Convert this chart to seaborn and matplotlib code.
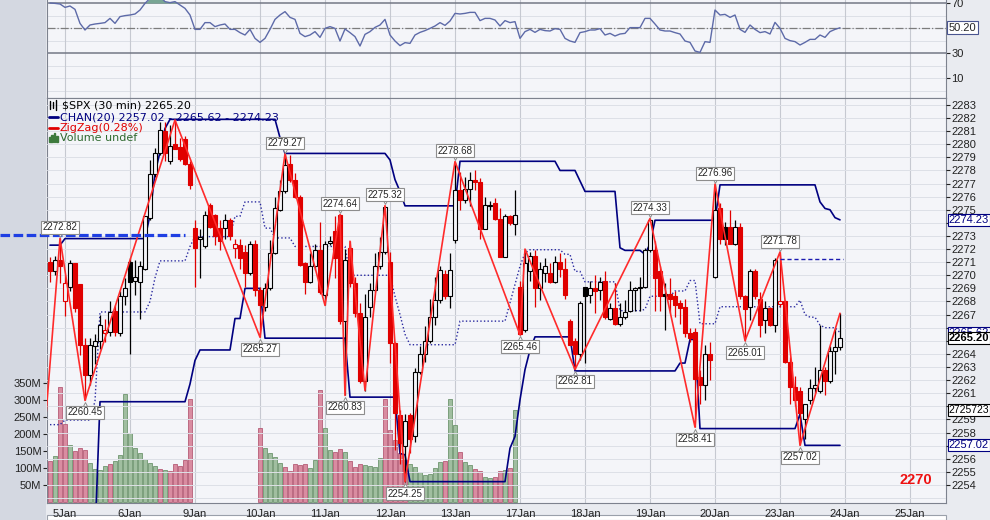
import numpy as np
import pandas as pd
import seaborn as sns
import matplotlib
matplotlib.use("Agg")
import matplotlib.pyplot as plt
from matplotlib.patches import Rectangle
from matplotlib.lines import Line2D
from matplotlib.transforms import ScaledTranslation, blended_transform_factory

# ---------------- data: $SPX 30 min bars ----------------
# bar 0..2 = last bars of 4Jan, then 13 bars per session up to 23Jan
day_labels = ["5Jan", "6Jan", "9Jan", "10Jan", "11Jan", "12Jan", "13Jan",
              "17Jan", "18Jan", "19Jan", "20Jan", "23Jan", "24Jan", "25Jan"]
day_first_bar = [3, 16, 29, 42, 55, 68, 81, 94, 107, 120, 133, 146, 159, 172]

opens = [2271.0, 2270.3, 2271.2, 2268.0, 2269.1, 2270.9, 2269.3, 2264.7, 2262.4, 2264.6,
         2265.0, 2265.6, 2265.7, 2267.3, 2265.6, 2268.4, 2271.0, 2269.6, 2269.5, 2270.5,
         2274.4, 2277.7, 2279.3, 2281.0, 2278.7, 2280.0, 2279.8, 2280.4, 2278.5, 2273.6,
         2272.8, 2272.2, 2275.4, 2274.6, 2273.6, 2273.6, 2274.2, 2272.1, 2272.3, 2271.8,
         2270.2, 2272.4, 2268.9, 2267.6, 2269.0, 2271.7, 2275.0, 2276.4, 2278.5, 2277.3,
         2276.0, 2270.9, 2269.5, 2270.7, 2271.9, 2268.5, 2272.5, 2273.4, 2274.6, 2266.5,
         2272.1, 2269.4, 2267.1, 2261.9, 2267.6, 2268.9, 2270.7, 2271.8, 2271.0, 2264.8,
         2259.3, 2257.0, 2259.3, 2257.7, 2262.6, 2264.0, 2265.0, 2266.8, 2268.1, 2270.1,
         2268.4, 2272.7, 2276.5, 2275.75, 2276.6, 2277.3, 2277.1, 2273.5, 2275.3, 2275.5,
         2274.3, 2271.4, 2274.5, 2273.9, 2269.1, 2265.8, 2270.3, 2271.5, 2269.0, 2270.2,
         2270.2, 2269.5, 2271.0, 2270.5, 2266.5, 2265.0, 2264.0, 2269.1, 2268.5, 2269.0,
         2268.9, 2269.6, 2266.7, 2267.5, 2266.3, 2266.8, 2267.3, 2268.9, 2269.0, 2269.1,
         2271.9, 2271.9, 2270.3, 2268.6, 2268.6, 2268.4, 2267.9, 2267.6, 2265.6, 2265.7,
         2262.2, 2261.6, 2264.0, 2269.9, 2275.1, 2273.7, 2273.7, 2272.4, 2273.7, 2268.4,
         2267.6, 2270.3, 2268.2, 2266.6, 2267.5, 2266.2, 2267.8, 2268.0, 2263.4, 2261.5,
         2261.2, 2259.0, 2260.5, 2261.4, 2261.2, 2262.8, 2261.9, 2264.2, 2264.5]
highs = [2271.4, 2271.5, 2272.82, 2270.0, 2271.2, 2270.9, 2269.3, 2265.2, 2265.2, 2265.5,
         2267.0, 2266.7, 2268.0, 2267.7, 2268.8, 2269.8, 2271.3, 2271.2, 2271.1, 2274.5,
         2278.8, 2279.7, 2281.7, 2281.7, 2281.5, 2281.85, 2280.5, 2280.6, 2278.7, 2274.2,
         2273.5, 2274.9, 2275.5, 2274.7, 2274.2, 2274.7, 2274.4, 2272.8, 2272.8, 2272.3,
         2272.6, 2272.7, 2269.1, 2269.4, 2272.7, 2276.0, 2277.3, 2279.27, 2279.2, 2277.8,
         2276.1, 2271.0, 2271.7, 2272.4, 2274.1, 2272.6, 2273.0, 2274.5, 2274.64, 2272.0,
         2272.6, 2269.9, 2267.9, 2268.6, 2269.4, 2271.7, 2272.9, 2275.32, 2271.8, 2264.9,
         2259.7, 2259.4, 2259.5, 2262.9, 2264.6, 2266.1, 2268.2, 2269.9, 2270.7, 2270.4,
         2271.7, 2278.68, 2277.9, 2277.5, 2277.9, 2278.0, 2277.4, 2276.0, 2275.7, 2275.9,
         2275.1, 2274.7, 2274.6, 2276.5, 2269.6, 2272.0, 2271.8, 2271.9, 2271.0, 2271.3,
         2270.9, 2271.5, 2271.7, 2271.3, 2266.7, 2265.2, 2268.0, 2269.1, 2269.6, 2270.0,
         2269.9, 2270.3, 2267.9, 2269.4, 2267.9, 2268.1, 2269.6, 2269.1, 2269.9, 2272.1,
         2274.33, 2272.6, 2270.7, 2269.4, 2269.8, 2268.8, 2268.1, 2268.2, 2266.0, 2266.0,
         2262.8, 2264.7, 2264.9, 2276.96, 2275.5, 2274.1, 2275.0, 2274.2, 2274.0, 2268.5,
         2270.5, 2270.5, 2268.7, 2268.0, 2267.6, 2271.3, 2271.78, 2268.1, 2263.8, 2262.3,
         2261.5, 2260.2, 2262.1, 2263.0, 2266.2, 2263.0, 2264.6, 2265.9, 2267.1]
lows = [2269.5, 2270.0, 2269.4, 2266.9, 2268.8, 2267.2, 2263.9, 2260.45, 2261.6, 2263.2,
        2264.4, 2264.9, 2265.4, 2265.4, 2265.4, 2267.7, 2264.0, 2268.5, 2266.7, 2270.4,
        2274.2, 2277.5, 2279.2, 2278.7, 2278.5, 2279.6, 2278.7, 2278.4, 2276.6, 2269.1,
        2269.8, 2272.1, 2273.6, 2272.3, 2271.9, 2272.8, 2272.7, 2271.3, 2270.5, 2269.1,
        2270.0, 2268.4, 2265.27, 2267.3, 2268.9, 2271.6, 2274.9, 2276.3, 2277.1, 2275.9,
        2270.7, 2268.6, 2269.4, 2270.4, 2268.6, 2267.7, 2272.3, 2269.8, 2266.3, 2260.83,
        2269.1, 2266.8, 2261.8, 2261.2, 2266.8, 2268.7, 2270.5, 2271.6, 2263.3, 2256.7,
        2255.6, 2254.25, 2256.4, 2257.3, 2262.5, 2263.4, 2264.8, 2266.2, 2267.9, 2268.2,
        2267.5, 2272.5, 2275.0, 2275.5, 2275.3, 2276.5, 2272.8, 2273.5, 2275.0, 2274.2,
        2271.4, 2271.4, 2273.8, 2273.1, 2265.46, 2265.7, 2269.6, 2267.6, 2268.1, 2269.5,
        2269.4, 2269.4, 2269.9, 2268.2, 2264.7, 2262.81, 2263.5, 2263.3, 2267.9, 2267.1,
        2268.1, 2266.7, 2266.6, 2266.2, 2266.1, 2266.7, 2267.2, 2267.3, 2267.3, 2269.0,
        2271.8, 2267.3, 2267.3, 2265.8, 2267.1, 2266.8, 2266.3, 2265.3, 2264.9, 2258.41,
        2260.2, 2260.5, 2262.0, 2269.8, 2272.4, 2272.3, 2272.4, 2272.3, 2268.2, 2265.01,
        2266.6, 2268.2, 2265.3, 2265.6, 2266.1, 2265.7, 2267.6, 2263.3, 2260.2, 2260.0,
        2257.02, 2257.5, 2260.2, 2261.0, 2261.0, 2260.9, 2261.8, 2262.5, 2264.3]
closes = [2270.3, 2271.2, 2270.7, 2269.4, 2270.9, 2267.5, 2264.7, 2262.4, 2264.7, 2265.0,
          2266.2, 2265.8, 2267.2, 2265.7, 2268.4, 2269.0, 2269.5, 2269.9, 2270.7, 2274.5,
          2277.7, 2279.3, 2281.1, 2279.3, 2279.9, 2279.6, 2278.9, 2278.5, 2276.9, 2272.1,
          2272.9, 2274.6, 2273.7, 2273.0, 2272.6, 2274.2, 2273.0, 2272.4, 2271.3, 2270.2,
          2272.4, 2268.9, 2267.7, 2269.0, 2271.7, 2275.1, 2276.4, 2278.4, 2277.3, 2276.0,
          2270.8, 2269.5, 2270.7, 2271.9, 2268.7, 2272.4, 2272.6, 2271.3, 2266.5, 2271.2,
          2269.4, 2267.1, 2261.9, 2266.8, 2268.9, 2270.7, 2271.8, 2275.2, 2264.8, 2259.5,
          2257.2, 2258.9, 2257.5, 2262.6, 2264.0, 2265.0, 2266.8, 2268.1, 2270.4, 2268.4,
          2270.4, 2276.5, 2275.75, 2276.6, 2277.3, 2277.1, 2273.5, 2275.4, 2275.4, 2274.3,
          2271.4, 2274.5, 2274.0, 2274.6, 2265.5, 2270.9, 2271.5, 2269.0, 2270.5, 2270.7,
          2269.5, 2271.0, 2270.5, 2268.5, 2264.7, 2264.0, 2267.9, 2268.4, 2269.0, 2268.8,
          2269.5, 2266.8, 2267.5, 2266.3, 2266.8, 2267.2, 2268.9, 2269.0, 2269.1, 2271.9,
          2274.2, 2269.8, 2268.4, 2268.4, 2268.2, 2267.7, 2267.5, 2265.6, 2265.2, 2262.1,
          2261.6, 2264.0, 2263.5, 2275.0, 2272.8, 2272.8, 2272.4, 2273.7, 2268.4, 2267.4,
          2270.3, 2268.4, 2266.2, 2267.5, 2266.2, 2271.2, 2268.0, 2263.4, 2261.5, 2260.5,
          2259.5, 2260.2, 2261.4, 2261.6, 2262.8, 2261.9, 2264.2, 2264.5, 2265.2]

# volume in millions; no volume after 13Jan and none on 9Jan ("Volume undef")
volume_m = [120, 135, 338, 229, 167, 150, 158, 153, 115, 97, 94, 106, 113, 120, 138, 317,
            202, 158, 143, 126, 114, 106, 97, 94, 91, 112, 106, 123, 304,
            None, None, None, None, None, None, None, None, None, None, None, None, None,
            219, 160, 143, 131, 116, 102, 91, 111, 109, 113, 100, 123, 328, 219, 153, 147,
            155, 147, 120, 104, 112, 108, 106, 103, 128, 302, 211, 182, 143, 125, 113, 102,
            88, 79, 82, 100, 117, 121, 302, 226, 147, 117, 109, 97, 91, 73, 70, 73, 91, 94,
            100, 270]
volume_side = ("rgrrgrrrggggrgggggggggrgrrrr" + "r" + "-------------" +
               "rggggrrrrrggrggrrgrrrggggrrrrrgggggggrggrggrrggrrgrg")

rsi = [70.0, 69.7, 69.2, 66.5, 67.6, 64.9, 53.7, 48.4, 52.4, 53.2, 53.7, 54.3, 57.7, 53.7,
       59.1, 59.9, 60.4, 61.2, 64.4, 69.7, 73.7, 75.1, 75.1, 71.1, 70.3, 71.1, 68.4, 65.7,
       60.4, 48.9, 48.9, 54.3, 54.3, 51.1, 52.4, 53.2, 48.9, 48.9, 46.3, 44.4, 48.9, 41.7,
       38.5, 41.7, 48.9, 56.9, 60.4, 63.1, 58.5, 56.9, 45.7, 43.1, 44.4, 47.1, 42.5, 49.7,
       51.1, 49.7, 39.6, 49.2, 46.3, 43.1, 35.6, 44.9, 47.1, 50.5, 52.4, 56.9, 44.4, 39.6,
       35.9, 38.3, 37.7, 44.4, 46.5, 47.9, 49.7, 51.6, 54.3, 52.1, 55.6, 61.7, 61.2, 61.7,
       62.5, 62.5, 55.9, 57.7, 57.7, 56.4, 51.6, 55.9, 54.3, 55.1, 41.7, 47.1, 48.9, 46.5,
       48.9, 47.9, 47.6, 49.5, 48.9, 41.7, 39.6, 38.5, 46.3, 47.1, 48.4, 48.4, 49.5, 44.4,
       45.7, 43.6, 45.2, 45.7, 50.3, 50.3, 50.3, 57.7, 57.7, 53.2, 48.4, 47.6, 47.6, 46.3,
       45.2, 39.6, 38.5, 31.6, 30.5, 39.1, 38.5, 64.4, 60.4, 60.9, 58.5, 60.4, 48.9, 46.5,
       52.4, 48.9, 46.3, 47.1, 45.2, 54.5, 49.7, 41.7, 39.9, 39.1, 36.4, 38.5, 40.9, 40.9,
       44.4, 42.5, 47.1, 48.9, 50.2]

# price channel CHAN(20), read as level / number of bars at that level
chan_upper_lvl = [2272.3, 2272.8, 2274.6, 2277.8, 2279.4, 2281.2, 2281.9, 2280.5, 2279.3,
                  2278.8, 2277.3, 2276.4, 2275.3, 2278.7, 2278.0, 2277.2, 2276.4, 2272.1,
                  2271.9, 2271.6, 2272.4, 2274.2, 2276.9, 2275.6, 2275.1, 2275.0, 2274.4,
                  2274.23]
chan_upper_run = [3, 17, 1, 1, 1, 1, 22, 1, 21, 1, 1, 1, 11, 20, 4, 1, 7, 1, 4, 1, 1, 13,
                  20, 1, 1, 1, 1, 1]
chan_lower_lvl = [2250.0, 2260.35, 2261.7, 2263.5, 2264.3, 2266.7, 2269.0, 2265.2, 2260.7,
                  2256.4, 2256.3, 2254.25, 2256.8, 2257.7, 2260.5, 2262.8, 2264.3, 2265.3,
                  2262.7, 2263.3, 2265.1, 2258.3, 2259.4, 2257.02]
chan_lower_run = [10, 18, 1, 1, 7, 2, 4, 17, 10, 1, 1, 20, 1, 1, 1, 1, 1, 8, 21, 2, 2, 20,
                  1, 8]
chan_mid_lvl = [2258.6, 2258.95, 2260.4, 2267.2, 2268.0, 2269.8, 2271.1, 2272.2, 2272.95,
                2274.5, 2275.6, 2273.6, 2272.85, 2272.2, 2270.0, 2268.4, 2267.0, 2265.5,
                2264.7, 2266.5, 2267.9, 2269.3, 2270.7, 2271.7, 2271.95, 2271.6, 2270.3,
                2269.5, 2267.3, 2267.4, 2268.4, 2268.8, 2269.6, 2266.3, 2267.6, 2268.1,
                2267.0, 2266.8, 2266.2, 2266.0, 2265.62]
chan_mid_run = [3, 6, 1, 10, 1, 1, 6, 1, 8, 2, 4, 2, 4, 11, 9, 1, 1, 1, 10, 10, 1, 1, 1, 1,
                7, 2, 2, 7, 5, 1, 5, 3, 2, 4, 16, 1, 1, 2, 1, 3, 1]

# ZigZag(0.28%) pivots (first one lies just left of the chart)
zz_bar = [-1, 2, 7, 25, 42, 47, 55, 58, 59, 60, 63, 67, 71, 81, 94, 95, 105, 120, 129,
          133, 139, 146, 150, 158]
zz_price = [2258.4, 2272.82, 2260.45, 2281.85, 2265.27, 2279.27, 2267.7, 2274.64, 2260.83,
            2272.6, 2261.2, 2275.32, 2254.25, 2278.68, 2265.46, 2272.0, 2262.81, 2274.33,
            2258.41, 2276.96, 2265.01, 2271.78, 2257.02, 2267.1]
zz_labeled = [0, 1, 1, 0, 1, 1, 0, 1, 1, 0, 0, 1, 1, 1, 1, 0, 1, 1, 1, 1, 1, 1, 1, 0]

marker_level = 2273.05      # thick blue dashed line drawn on the left
marker_from, marker_to = -10, 27
res_level = 2271.25         # thin dashed line after the 2271.78 top
res_from, res_to = 146, 158.6

# price ticks whose labels sit under the value flags on the right
hidden_ticks = [2257, 2260, 2265, 2266, 2274]

# ---------------- styling ----------------
sns.set_style("white")
plt.rcParams["font.family"] = ["Liberation Sans", "DejaVu Sans"]

BG = "#f4f5f9"
GRID = "#dde0e7"
VGRID = "#c6c9d1"
NAVY = "#000080"
RED = "#e00000"
ZZ = "#ff2b2b"

W, H = 990.0, 520.0


def frame(x0, y0, x1, y1):
    return [x0 / W, 1 - y1 / H, (x1 - x0) / W, (y1 - y0) / H]


fig = plt.figure(figsize=(9.9, 5.2), dpi=100)
fig.patch.set_facecolor("#e9ebf0")
fig.add_artist(Rectangle((0, 0), 46 / W, 1, transform=fig.transFigure,
                         facecolor="#d4d8e1", edgecolor="none", zorder=-2))
fig.add_artist(Rectangle((47 / W, 0), 899 / W, 5 / H, transform=fig.transFigure,
                         facecolor="white", edgecolor="#9aa0aa", lw=0.8, zorder=-1))

n = len(closes)
bars = np.arange(n)
o = np.array(opens)
hi = np.array(highs)
lo = np.array(lows)
c = np.array(closes)
xlim = (-0.6, 179.2)

# ---------------- RSI panel ----------------
ax_r = fig.add_axes(frame(47, -2, 946, 98))
ax_r.set_facecolor(BG)
ax_r.set_xlim(*xlim)
ax_r.set_ylim(-6, 74)
for lvl in [0, 10, 20, 40, 50, 60]:
    ax_r.axhline(lvl, color=GRID, lw=0.7, zorder=0)
for d in day_first_bar:
    ax_r.axvline(d, color=VGRID, lw=0.8, zorder=0)
ax_r.axhline(70, color="#737885", lw=1.1, zorder=1)
ax_r.axhline(30, color="#737885", lw=1.1, zorder=1)
ax_r.axhline(50.2, color="#7c7c7c", lw=0.9, ls="-.", zorder=1)
rsi_arr = np.array(rsi)
ax_r.fill_between(bars, 70, rsi_arr, where=rsi_arr > 70, interpolate=True,
                  color="#78a594", zorder=2, lw=0)
sns.lineplot(x=bars, y=rsi_arr, ax=ax_r, color="#5d6aa8", lw=1.0, zorder=3)
ax_r.yaxis.tick_right()
ax_r.set_yticks([10, 30, 70])
ax_r.tick_params(axis="y", labelsize=8, length=3, pad=1, colors="#222222")
ax_r.set_xticks([])
ax_r.set_xlabel("")
ax_r.set_ylabel("")
for s in ax_r.spines.values():
    s.set_color("#7d828e")
ax_r.text(1.003, 50.2, "50.20", transform=blended_transform_factory(ax_r.transAxes, ax_r.transData),
          ha="left", va="center", fontsize=8,
          bbox=dict(boxstyle="square,pad=0.12", fc="white", ec="#4a5590", lw=0.8))

# ---------------- main panel: volume underneath, price on top ----------------
ax_v = fig.add_axes(frame(47, 98, 946, 503))
ax_v.set_facecolor(BG)
ax = ax_v.twinx()
ax_v.set_xlim(*xlim)
ax_v.set_ylim(-3, 1188)
ax.set_ylim(2252.62, 2283.53)

for d in day_first_bar:
    ax_v.axvline(d, color=VGRID, lw=0.8, zorder=0)

vol_x = [i for i, v in enumerate(volume_m) if v is not None]
vol_h = [volume_m[i] for i in vol_x]
vol_fc = ["#d98ca1" if volume_side[i] == "r" else "#a0bea0" for i in vol_x]
vol_ec = ["#b65c77" if volume_side[i] == "r" else "#6f956f" for i in vol_x]
ax_v.bar(vol_x, vol_h, width=0.62, color=vol_fc, edgecolor=vol_ec, lw=0.6, zorder=2)
ax_v.set_yticks(list(range(50, 351, 50)))
ax_v.set_yticklabels([f"{v}M" for v in range(50, 351, 50)])
ax_v.tick_params(axis="y", labelsize=8, length=3, pad=1, colors="#222222")
ax_v.set_xticks(day_first_bar)
ax_v.set_xticklabels(day_labels)
ax_v.set_xticks(np.arange(0, 180), minor=True)
ax_v.tick_params(axis="x", which="major", labelsize=8, length=3, pad=1.5, colors="#222222")
ax_v.tick_params(axis="x", which="minor", length=2, direction="in", color="#777777")
for s in ax_v.spines.values():
    s.set_color("#7d828e")
for s in ax.spines.values():
    s.set_visible(False)

for lvl in range(2253, 2284):
    ax.axhline(lvl, color=GRID, lw=0.7, zorder=0.5)

# channel
upper = np.repeat(chan_upper_lvl, chan_upper_run)
lower = np.repeat(chan_lower_lvl, chan_lower_run)
middle = np.repeat(chan_mid_lvl, chan_mid_run)
sns.lineplot(x=bars, y=upper, ax=ax, color=NAVY, lw=1.2, zorder=2)
sns.lineplot(x=bars, y=lower, ax=ax, color=NAVY, lw=1.2, zorder=2)
sns.lineplot(x=bars, y=middle, ax=ax, color="#2a2aa0", lw=1.0, ls=(0, (1, 1.6)), zorder=2)

# candles: colour from close vs previous close, fill from close vs open
prev = np.concatenate([[o[0]], c[:-1]])
col = np.where(c >= prev, "#000000", RED)
filled = c < o
ax.vlines(bars, lo, hi, colors=col, lw=0.9, zorder=3)
body_lo = np.minimum(o, c)
body_h = np.maximum(np.abs(c - o), 0.08)
ax.bar(bars, body_h, bottom=body_lo, width=0.62,
       color=[cc if f else BG for cc, f in zip(col, filled)],
       edgecolor=col, lw=0.8, zorder=4)

# zigzag
sns.lineplot(x=zz_bar, y=zz_price, ax=ax, color=ZZ, lw=1.2, zorder=5, sort=False)
for k in range(1, len(zz_bar)):
    if not zz_labeled[k]:
        continue
    is_high = zz_price[k] > zz_price[k - 1]
    dy = 7.8 if is_high else -8.6
    ax.annotate(f"{zz_price[k]:.2f}", (zz_bar[k], zz_price[k]), xytext=(0, dy),
                textcoords="offset points", ha="center", va="center", fontsize=7,
                bbox=dict(boxstyle="square,pad=0.15", fc="white", ec="#8d8d8d", lw=0.8),
                zorder=8)
    off = ScaledTranslation(0, (3.0 if is_high else -3.4) / 72, fig.dpi_scale_trans)
    ax.plot(zz_bar[k], zz_price[k], marker="v" if is_high else "^", ms=4.5, mfc="white",
            mec="#8d8d8d", mew=0.7, transform=ax.transData + off, zorder=7)

ax.plot([marker_from, marker_to], [marker_level, marker_level], color="#1f3fe3", lw=2.3,
        ls=(0, (3, 1.1)), clip_on=False, zorder=6)
ax.plot([res_from, res_to], [res_level, res_level], color="#1a1ab0", lw=1.0,
        ls=(0, (3, 2)), zorder=6)

price_ticks = list(range(2254, 2284))
ax.set_yticks(price_ticks)
ax.set_yticklabels(["" if t in hidden_ticks else str(t) for t in price_ticks])
ax.tick_params(axis="y", labelsize=8, length=3, pad=1, colors="#222222")
ax.set_xlim(*xlim)
ax.set_xlabel("")
ax.set_ylabel("")
ax_v.set_ylabel("")

# right-hand value flags
flag = blended_transform_factory(ax.transAxes, ax.transData)
for val, txt, fcol, bold, fs in [(2274.23, "2274.23", NAVY, False, 8),
                                 (2265.62, "2265.62", NAVY, False, 8),
                                 (2265.20, "2265.20", "#000000", True, 8),
                                 (2259.72, "2725723", "#000000", False, 7.5),
                                 (2257.02, "2257.02", NAVY, False, 8)]:
    ax.text(1.003, val, txt, transform=flag, ha="left", va="center", fontsize=fs,
            color=fcol, fontweight="bold" if bold else "normal", zorder=9,
            bbox=dict(boxstyle="square,pad=0.1", fc="white", ec=fcol, lw=0.8))

# legend block
fig.text(62 / W, 1 - 105 / H, "$SPX (30 min) 2265.20", fontsize=8, family="DejaVu Sans",
         va="center", ha="left", color="#000000")
fig.text(60 / W, 1 - 117 / H, "CHAN(20) 2257.02 - 2265.62 - 2274.23", fontsize=8,
         family="DejaVu Sans", va="center", ha="left", color=NAVY)
fig.text(60 / W, 1 - 128 / H, "ZigZag(0.28%)", fontsize=8, family="DejaVu Sans",
         va="center", ha="left", color=RED)
fig.text(60 / W, 1 - 138 / H, "Volume undef", fontsize=8, family="DejaVu Sans",
         va="center", ha="left", color="#2f6a2f")
fig.add_artist(Line2D([49 / W, 58 / W], [1 - 117 / H] * 2, color=NAVY, lw=2))
fig.add_artist(Line2D([49 / W, 58 / W], [1 - 128 / H] * 2, color=RED, lw=2))
for j, hgt in enumerate([5, 7, 9, 6]):
    fig.add_artist(Rectangle(((49 + 2.3 * j) / W, 1 - 142 / H), 1.8 / W, hgt / H,
                             transform=fig.transFigure, color="#3d7a3d"))
for j, (y0, y1) in enumerate([(101, 109), (102, 108), (100, 110)]):
    fig.add_artist(Line2D([(50 + 3 * j) / W] * 2, [1 - y1 / H, 1 - y0 / H], color="black", lw=1))

fig.text(916 / W, 1 - 480 / H, "2270", fontsize=10.5, fontweight="bold", color="#ee1111",
         ha="center", va="center")

fig.savefig("out.png", dpi=100, facecolor=fig.get_facecolor())
